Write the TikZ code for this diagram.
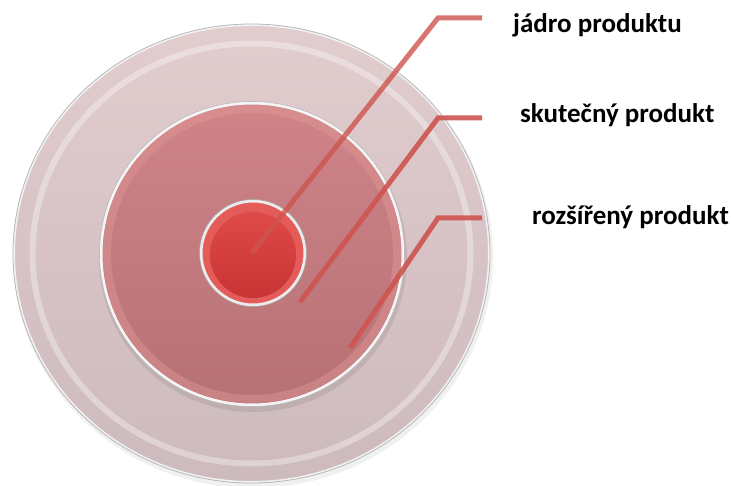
\documentclass[tikz,border=0pt]{standalone}
\usepackage{fontspec}
\setmainfont{Carlito}
\usepackage{xcolor}
\usepackage{tikz}
\usetikzlibrary{calc, positioning}

\definecolor{cara}{RGB}{206,84,80}
\definecolor{vnejsiA}{RGB}{225,204,206}
\definecolor{vnejsiB}{RGB}{205,186,188}
\definecolor{strednA}{RGB}{207,132,136}
\definecolor{strednB}{RGB}{182,113,117}
\definecolor{jadroA}{RGB}{228,92,90}
\definecolor{jadroB}{RGB}{221,74,71}
\definecolor{jadroC}{RGB}{199,52,52}

\tikzset{
    popis/.style={anchor=base west, font=\bfseries\fontsize{27}{30}\selectfont, text=black, inner sep=0pt},
    vodic/.style={draw=cara, line width=5pt, line join=miter}
}

\begin{document}
\begin{tikzpicture}[x=1pt, y=1pt]
    \useasboundingbox (0,0) rectangle (731,485);

    % Rozšířený produkt - vnější kruh
    \fill[black, opacity=0.06] (253,228) ellipse [x radius=240, y radius=231];
    \shade[top color=vnejsiA, bottom color=vnejsiB] (251.5,231.5) ellipse [x radius=238.5, y radius=229.5];
    \draw[white, opacity=0.35, line width=6pt] (251.5,231.5) ellipse [x radius=219, y radius=210];
    \draw[white!90!gray, line width=2pt] (251.5,231.5) ellipse [x radius=237.5, y radius=228.5];
    \draw[gray!55, line width=0.8pt] (251.5,231.5) ellipse [x radius=238.5, y radius=229.5];

    % Skutečný produkt - střední kruh
    \fill[black, opacity=0.08] (253,227) circle (154);
    \shade[top color=strednA, bottom color=strednB] (252,231) circle (152);
    \draw[cara!60, opacity=0.45, line width=8pt] (252,231) circle (145);
    \draw[white!92!gray, line width=3pt] (252,231) circle (151);
    \draw[gray!55, line width=0.6pt] (252,231) circle (152.5);

    % Jádro produktu - vnitřní kruh
    \fill[jadroA] (253,232) circle (52);
    \shade[top color=jadroB, bottom color=jadroC] (253,230) circle (43);
    \draw[white!85!gray, line width=3pt] (253,232) circle (52);
    \draw[gray!70, line width=0.5pt] (253,232) circle (53.5);

    % Body vodicích čar
    \coordinate (z1) at (252,232);
    \coordinate (l1) at (438,467);
    \coordinate (k1) at (482,467);
    \coordinate (z2) at (300,183);
    \coordinate (l2) at (438,367);
    \coordinate (k2) at (482,367);
    \coordinate (z3) at (350,137);
    \coordinate (l3) at (438,267);
    \coordinate (k3) at (482,267);

    % Vodicí čáry
    \draw[vodic, opacity=0.8] (z1) -- (l1) -- (k1);
    \draw[vodic, opacity=0.9] (z2) -- (l2) -- (k2);
    \draw[vodic, opacity=0.9] (z3) -- (l3) -- (k3);

    % Popisky
    \node[popis] (jadro) at (513,452) {jádro produktu};
    \node[popis] (skutecny) at (520,362) {skutečný produkt};
    \node[popis] (rozsireny) at (532,260) {rozšířený produkt};
\end{tikzpicture}
\end{document}
